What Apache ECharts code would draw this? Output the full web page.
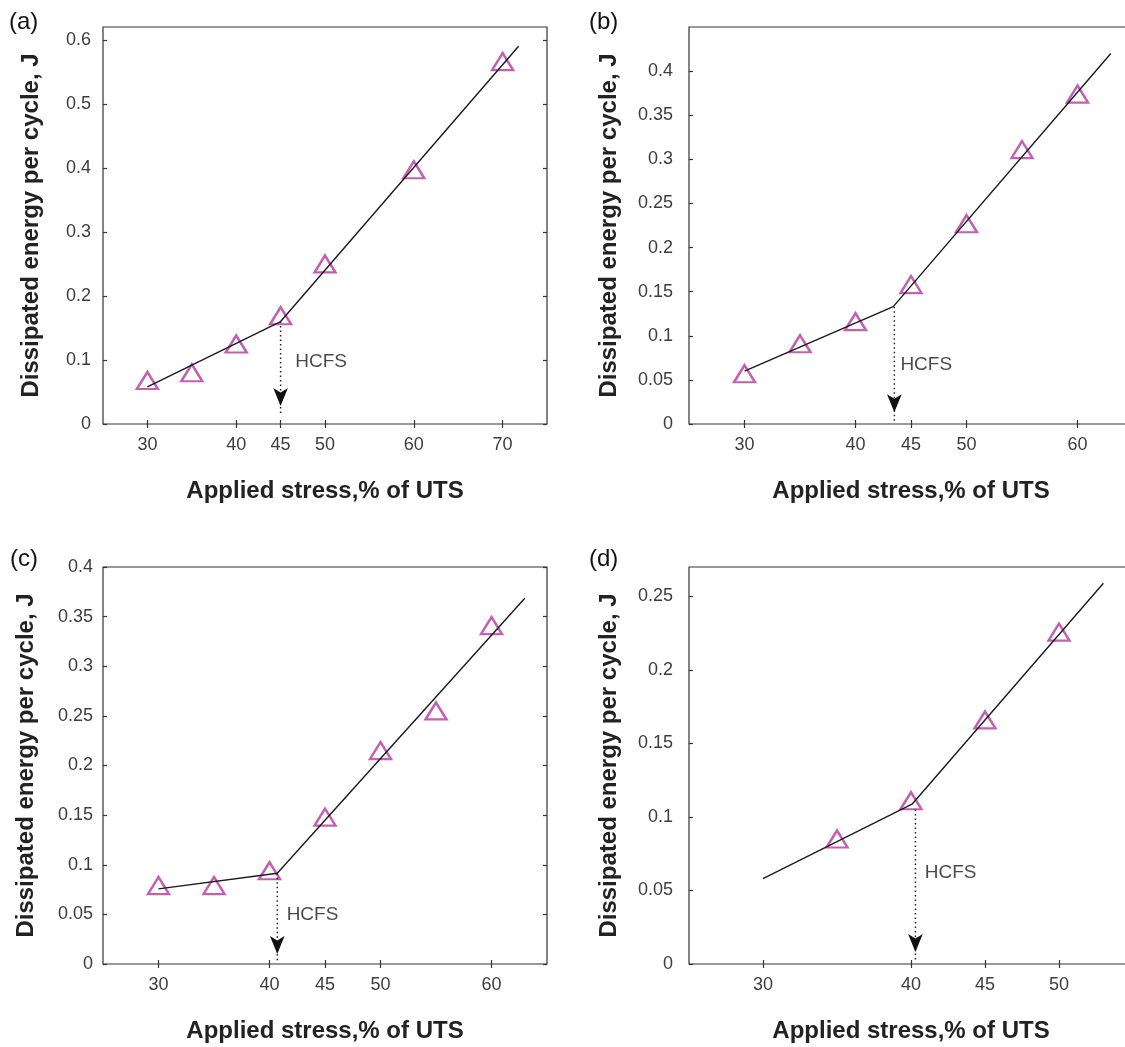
<!DOCTYPE html>
<html><head><meta charset="utf-8">
<script src="https://cdn.jsdelivr.net/npm/echarts@6/dist/echarts.min.js"></script>
<style>html,body{margin:0;padding:0;background:#fff}#c{width:1125px;height:1047px}</style>
</head><body><div id="c"></div>
<script>
// ---------- Panel (a) ----------
const xA = [30, 35, 40, 45, 50, 60, 70];
const yA = [0.068, 0.080, 0.125, 0.169, 0.250, 0.397, 0.566];
const fitXA = [30, 45, 71.8];
const fitYA = [0.058, 0.160, 0.590];
const arrowXA = [45, 45];
const arrowYA = [0.160, 0.014];
const hcfsA = [46.6, 0.097];
const xTicksA = [30, 40, 45, 50, 60, 70];
const yTicksA = [0, 0.1, 0.2, 0.3, 0.4, 0.5, 0.6];
const xRangeA = [25, 75];
const yRangeA = [0, 0.62];

// ---------- Panel (b) ----------
const xB = [30, 35, 40, 45, 50, 55, 60];
const yB = [0.057, 0.091, 0.116, 0.158, 0.227, 0.311, 0.374];
const fitXB = [30, 43.4, 63.0];
const fitYB = [0.060, 0.133, 0.420];
const arrowXB = [43.5, 43.5];
const arrowYB = [0.133, 0.003];
const hcfsB = [44.0, 0.067];
const xTicksB = [30, 40, 45, 50, 60];
const yTicksB = [0, 0.05, 0.1, 0.15, 0.2, 0.25, 0.3, 0.35, 0.4];
const xRangeB = [25, 65];
const yRangeB = [0, 0.45];

// ---------- Panel (c) ----------
const xC = [30, 35, 40, 45, 50, 55, 60];
const yC = [0.079, 0.079, 0.094, 0.148, 0.215, 0.255, 0.341];
const fitXC = [30, 40.7, 63.0];
const fitYC = [0.0757, 0.0914, 0.3685];
const arrowXC = [40.7, 40.7];
const arrowYC = [0.0914, 0.001];
const hcfsC = [41.5, 0.0495];
const xTicksC = [30, 40, 45, 50, 60];
const yTicksC = [0, 0.05, 0.1, 0.15, 0.2, 0.25, 0.3, 0.35, 0.4];
const xRangeC = [25, 65];
const yRangeC = [0, 0.4];

// ---------- Panel (d) ----------
const xD = [35, 40, 45, 50];
const yD = [0.085, 0.111, 0.166, 0.2257];
const fitXD = [30, 40.07, 53.0];
const fitYD = [0.058, 0.1087, 0.259];
const arrowXD = [40.3, 40.3];
const arrowYD = [0.105, 0.002];
const hcfsD = [40.9, 0.062];
const xTicksD = [30, 40, 45, 50];
const yTicksD = [0, 0.05, 0.1, 0.15, 0.2, 0.25];
const xRangeD = [25, 55];
const yRangeD = [0, 0.27];

const panelLabels = ['(a)', '(b)', '(c)', '(d)'];
const xTitle = 'Applied stress,% of UTS';
const yTitle = 'Dissipated energy per cycle, J';
const hcfsText = 'HCFS';

const FONT = "'Liberation Sans', Arial, Helvetica, sans-serif";
const zip = (a, b) => a.map((v, i) => [v, b[i]]);

const panels = [
  {x: xA, y: yA, fx: fitXA, fy: fitYA, ax: arrowXA, ay: arrowYA, h: hcfsA, xt: xTicksA, yt: yTicksA, xr: xRangeA, yr: yRangeA,
   grid: {left: 103, top: 27, width: 444, height: 397}, yGap: 60, yMargin: 12, lab: {left: 9, top: 10}},
  {x: xB, y: yB, fx: fitXB, fy: fitYB, ax: arrowXB, ay: arrowYB, h: hcfsB, xt: xTicksB, yt: yTicksB, xr: xRangeB, yr: yRangeB,
   grid: {left: 689, top: 27, width: 444, height: 397}, yGap: 68, yMargin: 16, lab: {left: 589, top: 10}},
  {x: xC, y: yC, fx: fitXC, fy: fitYC, ax: arrowXC, ay: arrowYC, h: hcfsC, xt: xTicksC, yt: yTicksC, xr: xRangeC, yr: yRangeC,
   grid: {left: 103, top: 567, width: 444, height: 397}, yGap: 65, yMargin: 10, lab: {left: 10, top: 547}},
  {x: xD, y: yD, fx: fitXD, fy: fitYD, ax: arrowXD, ay: arrowYD, h: hcfsD, xt: xTicksD, yt: yTicksD, xr: xRangeD, yr: yRangeD,
   grid: {left: 689, top: 567, width: 444, height: 397}, yGap: 68, yMargin: 16, lab: {left: 589, top: 547}}
];

const option = {
  animation: false,
  backgroundColor: '#fff',
  title: [], grid: [], xAxis: [], yAxis: [], series: []
};

const axisColor = '#333';
panels.forEach((p, i) => {
  option.title.push({text: panelLabels[i], left: p.lab.left, top: p.lab.top, padding: 0,
    textStyle: {fontFamily: FONT, fontSize: 24, fontWeight: 'normal', color: '#111'}});
  option.grid.push(Object.assign({show: true, borderColor: axisColor, borderWidth: 1.2, backgroundColor: 'transparent',
    containLabel: false, outerBoundsMode: 'none'}, p.grid));
  const tickStyle = {color: axisColor, width: 1.2};
  option.xAxis.push({gridIndex: i, type: 'value', min: p.xr[0], max: p.xr[1], position: 'bottom',
    axisLine: {show: false}, splitLine: {show: false},
    axisTick: {show: true, inside: true, length: 4, customValues: p.xt, lineStyle: tickStyle},
    axisLabel: {customValues: p.xt, color: '#3d3d3d', fontSize: 18, fontFamily: FONT, margin: 12},
    name: xTitle, nameLocation: 'middle', nameGap: 55,
    nameTextStyle: {fontFamily: FONT, fontSize: 24, fontWeight: 'bold', color: '#222'}});
  option.xAxis.push({gridIndex: i, type: 'value', min: p.xr[0], max: p.xr[1], position: 'top',
    axisLine: {show: false}, splitLine: {show: false},
    axisTick: {show: true, inside: true, length: 4, customValues: p.xt, lineStyle: tickStyle},
    axisLabel: {show: false}});
  option.yAxis.push({gridIndex: i, type: 'value', min: p.yr[0], max: p.yr[1], position: 'left',
    axisLine: {show: false}, splitLine: {show: false},
    axisTick: {show: true, inside: true, length: 4, customValues: p.yt, lineStyle: tickStyle},
    axisLabel: {customValues: p.yt, color: '#3d3d3d', fontSize: 18, fontFamily: FONT, margin: p.yMargin},
    name: yTitle, nameLocation: 'middle', nameGap: p.yGap, nameRotate: 90,
    nameTextStyle: {fontFamily: FONT, fontSize: 24, fontWeight: 'bold', color: '#222'}});
  option.yAxis.push({gridIndex: i, type: 'value', min: p.yr[0], max: p.yr[1], position: 'right',
    axisLine: {show: false}, splitLine: {show: false},
    axisTick: {show: true, inside: true, length: 4, customValues: p.yt, lineStyle: tickStyle},
    axisLabel: {show: false}});

  const xi = 2 * i, yi = 2 * i;
  option.series.push({type: 'scatter', xAxisIndex: xi, yAxisIndex: yi, data: zip(p.x, p.y),
    symbol: 'triangle', symbolSize: [21, 17], z: 2, silent: true,
    itemStyle: {color: 'rgba(0,0,0,0)', borderColor: '#b3389e', borderWidth: 2.4}});
  option.series.push({type: 'line', xAxisIndex: xi, yAxisIndex: yi, data: zip(p.fx, p.fy),
    symbol: 'none', z: 3, silent: true, lineStyle: {color: '#1a1a1a', width: 1.4}});
  option.series.push({type: 'line', xAxisIndex: xi, yAxisIndex: yi, z: 3, silent: true,
    data: [
      {value: [p.ax[0], p.ay[0]], symbol: 'none'},
      {value: [p.ax[1], p.ay[1]], symbol: 'arrow', symbolSize: [11, 18], symbolRotate: 180, symbolOffset: [0, -9]}
    ],
    showSymbol: true,
    lineStyle: {color: '#222', width: 1.5, type: [1.5, 3]},
    itemStyle: {color: '#111'}});
  option.series.push({type: 'scatter', xAxisIndex: xi, yAxisIndex: yi, data: [p.h],
    symbolSize: 1, silent: true, itemStyle: {color: 'rgba(0,0,0,0)'},
    label: {show: true, position: 'right', distance: 0, formatter: hcfsText,
      color: '#1a1a1a', fontSize: 19, fontFamily: FONT}});
});

const chart = echarts.init(document.getElementById('c'), null, {renderer: 'canvas'});
chart.setOption(option);
</script>
</body></html>
